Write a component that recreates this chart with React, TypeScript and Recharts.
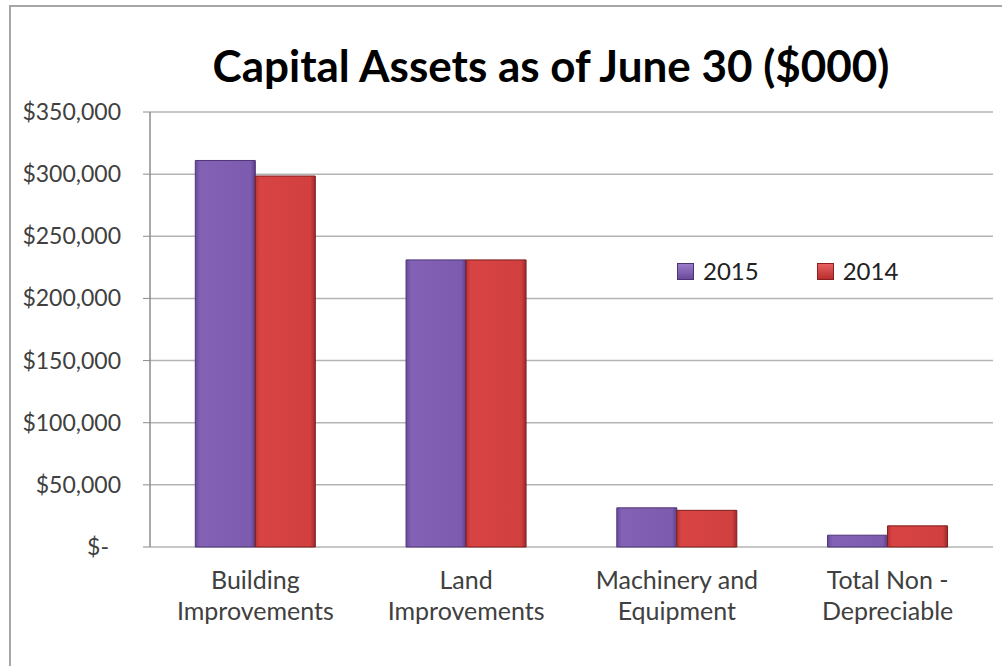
import React from 'react';
import { Bar, BarChart, CartesianGrid, XAxis, YAxis } from 'recharts';

const categories = ['Building|Improvements', 'Land|Improvements', 'Machinery and|Equipment', 'Total Non -|Depreciable'];
const values2015 = [311000, 231000, 31500, 9500];
const values2014 = [298500, 231000, 29500, 17000];
const yTicks = [0, 50000, 100000, 150000, 200000, 250000, 300000, 350000];
const boundaryTicks = [0, 1, 2, 3, 4];

const data = categories.map((name, i) => ({
  name,
  y2015: values2015[i],
  y2014: values2014[i],
}));

const FONT = 'Lato, "Open Sans", sans-serif';

const formatMoney = (v: number) => (v === 0 ? '$-' : '$' + v.toLocaleString('en-US'));

const YTick = (props: any) => {
  const { x, y, payload } = props;
  const isZero = payload.value === 0;
  return (
    <text x={isZero ? x - 12 : x} y={y} dy={8} textAnchor="end" fontSize={23} fill="#404040" fontFamily={FONT}>
      {formatMoney(payload.value)}
    </text>
  );
};

const XTick = (props: any) => {
  const { x, y, payload } = props;
  const lines = String(payload.value).split('|');
  return (
    <g>
      {lines.map((line, i) => (
        <text key={i} x={x} y={y + 34 + i * 31} textAnchor="middle" fontSize={25} fill="#404040" fontFamily={FONT}>
          {line}
        </text>
      ))}
    </g>
  );
};

const LegendBox = () => (
  <div
    style={{
      position: 'absolute',
      left: 677,
      top: 256,
      display: 'flex',
      alignItems: 'center',
      fontFamily: FONT,
      fontSize: 24,
      lineHeight: '30px',
      color: '#222',
    }}
  >
    <span style={{ width: 15, height: 15, background: 'linear-gradient(#9b7cc9, #6a4a9a)', border: '1px solid #4e3475', marginRight: 9 }} />
    <span style={{ marginRight: 58 }}>2015</span>
    <span style={{ width: 15, height: 15, background: 'linear-gradient(#e86060, #b82e2e)', border: '1px solid #8a2020', marginRight: 9 }} />
    <span>2014</span>
  </div>
);

export default function App() {
  return (
    <div style={{ position: 'absolute', left: 0, top: 0, width: 1002, height: 666, overflow: 'hidden', background: '#fff' }}>
      <div
        style={{
          position: 'absolute',
          left: 9,
          top: 5,
          width: 1010,
          height: 700,
          border: '2px solid #a6a6a6',
        }}
      />
      <div
        style={{
          position: 'absolute',
          left: 0,
          width: 1002,
          top: 37,
          textAlign: 'center',
          paddingLeft: 100,
          boxSizing: 'border-box',
          fontFamily: FONT,
          fontWeight: 700,
          fontSize: 44,
          color: '#000',
          lineHeight: '56px',
        }}
      >
        Capital Assets as of June 30 ($000)
      </div>
      <div style={{ position: 'absolute', left: 0, top: 0 }}>
        <BarChart
          width={1002}
          height={666}
          data={data}
          margin={{ top: 112, right: 9, bottom: 39, left: 0 }}
          barCategoryGap="21.5%"
          barGap={0}
        >
          <defs>
            <linearGradient id="gPurple" x1="0" y1="0" x2="1" y2="0">
              <stop offset="0%" stopColor="#6a4a9c" />
              <stop offset="8%" stopColor="#8362b5" />
              <stop offset="92%" stopColor="#7d5cb0" />
              <stop offset="100%" stopColor="#5b3e88" />
            </linearGradient>
            <linearGradient id="gRed" x1="0" y1="0" x2="1" y2="0">
              <stop offset="0%" stopColor="#b83434" />
              <stop offset="8%" stopColor="#d84444" />
              <stop offset="92%" stopColor="#d23f3f" />
              <stop offset="100%" stopColor="#9c2a2a" />
            </linearGradient>
          </defs>
          <CartesianGrid vertical={false} stroke="#b4b4b4" strokeWidth={1.5} />
          <XAxis
            xAxisId="bounds"
            type="number"
            domain={[0, 4]}
            ticks={boundaryTicks}
            height={0}
            tick={false}
            tickSize={8}
            tickLine={{ stroke: '#8c8c8c' }}
            axisLine={{ stroke: '#8c8c8c', strokeWidth: 1.5 }}
          />
          <XAxis dataKey="name" height={80} tick={<XTick />} tickLine={false} axisLine={false} interval={0} />
          <YAxis
            width={150}
            domain={[0, 350000]}
            ticks={yTicks}
            tick={<YTick />}
            tickSize={7}
            tickLine={{ stroke: '#8c8c8c' }}
            axisLine={{ stroke: '#8c8c8c', strokeWidth: 1.5 }}
            tickMargin={22}
          />
          <Bar dataKey="y2015" name="2015" fill="url(#gPurple)" stroke="#4e3475" strokeWidth={1} isAnimationActive={false} />
          <Bar dataKey="y2014" name="2014" fill="url(#gRed)" stroke="#7e1e1e" strokeWidth={1} isAnimationActive={false} />
        </BarChart>
      </div>
      <LegendBox />
    </div>
  );
}
